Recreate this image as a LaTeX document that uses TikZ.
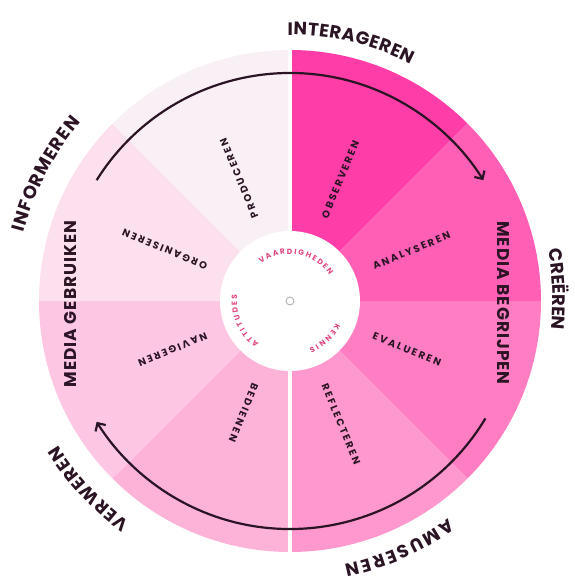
\documentclass[tikz,border=0pt]{standalone}
\usepackage{fontspec}
\newfontfamily\wheelfont{Poppins}
\usetikzlibrary{arrows.meta}
\usetikzlibrary{decorations.text}
\definecolor{observ}{RGB}{255,61,168}
\definecolor{analys}{RGB}{255,95,181}
\definecolor{evalu}{RGB}{255,125,194}
\definecolor{reflect}{RGB}{255,152,206}
\definecolor{bedien}{RGB}{253,178,216}
\definecolor{navig}{RGB}{253,198,226}
\definecolor{organis}{RGB}{253,224,238}
\definecolor{produc}{RGB}{248,240,244}
\definecolor{labelink}{RGB}{43,20,36}
\definecolor{innerink}{RGB}{226,70,130}
\newcommand\outerfont{\wheelfont\bfseries\fontsize{18}{18}\selectfont}
\newcommand\innerfont{\wheelfont\bfseries\fontsize{7.5}{7.5}\selectfont}
\tikzset{
  seclabel/.style={text=labelink, inner sep=0pt, anchor=west,
    font=\wheelfont\bfseries\fontsize{10}{10}\selectfont\addfontfeatures{LetterSpace=20}},
  medialabel/.style={text=labelink, inner sep=0pt,
    font=\wheelfont\bfseries\fontsize{17}{17}\selectfont\addfontfeatures{LetterSpace=6}},
  arrowline/.style={draw=labelink, line width=2.2pt, -{Straight Barb[length=6pt,width=12pt]}},
  arctext/.style={decorate, decoration={text along path, text align=fit to path, text color=labelink}}
}
\begin{document}
\begin{tikzpicture}
\useasboundingbox (-290pt,-281pt) rectangle (285pt,301pt);

%Shape: Sector [observeren]
\fill[observ] (0,0) -- (90:251pt) arc[start angle=90,end angle=45,radius=251pt] -- cycle;
%Shape: Sector [analyseren]
\fill[analys] (0,0) -- (45:251pt) arc[start angle=45,end angle=0,radius=251pt] -- cycle;
%Shape: Sector [evalueren]
\fill[evalu] (0,0) -- (0:251pt) arc[start angle=0,end angle=-45,radius=251pt] -- cycle;
%Shape: Sector [reflecteren]
\fill[reflect] (0,0) -- (-45:251pt) arc[start angle=-45,end angle=-90,radius=251pt] -- cycle;
%Shape: Sector [bedienen]
\fill[bedien] (0,0) -- (270:251pt) arc[start angle=270,end angle=225,radius=251pt] -- cycle;
%Shape: Sector [navigeren]
\fill[navig] (0,0) -- (225:251pt) arc[start angle=225,end angle=180,radius=251pt] -- cycle;
%Shape: Sector [organiseren]
\fill[organis] (0,0) -- (180:251pt) arc[start angle=180,end angle=135,radius=251pt] -- cycle;
%Shape: Sector [produceren]
\fill[produc] (0,0) -- (135:251pt) arc[start angle=135,end angle=90,radius=251pt] -- cycle;

%Shape: Circle [hub]
\fill[white] (0,0) circle[radius=70pt];
%Straight Lines [gap]
\draw[white, line width=4pt] (90:254pt) -- (270:254pt);
%Shape: Circle [dot]
\draw[black!30, line width=0.9pt] (0,0) circle[radius=4pt];

%Curve Lines [top arrow]
\coordinate (topfrom) at (148:228pt);
\draw[arrowline] (topfrom) arc[start angle=148,end angle=32,radius=228pt];
%Curve Lines [bottom arrow]
\coordinate (botfrom) at (-31:228pt);
\draw[arrowline] (botfrom) arc[start angle=-31,end angle=-148,radius=228pt];

% Text Node
\node[seclabel, rotate=67.5] (obs) at (67.5:90pt) {OBSERVEREN};
% Text Node
\node[seclabel, rotate=22.5] (ana) at (22.5:90pt) {ANALYSEREN};
% Text Node
\node[seclabel, rotate=-22.5] (eva) at (-22.5:90pt) {EVALUEREN};
% Text Node
\node[seclabel, rotate=-67.5] (ref) at (-67.5:90pt) {REFLECTEREN};
% Text Node
\node[seclabel, rotate=247.5] (bed) at (247.5:90pt) {BEDIENEN};
% Text Node
\node[seclabel, rotate=202.5] (nav) at (202.5:90pt) {NAVIGEREN};
% Text Node
\node[seclabel, rotate=157.5] (org) at (157.5:90pt) {ORGANISEREN};
% Text Node
\node[seclabel, rotate=112.5] (pro) at (112.5:90pt) {PRODUCEREN};

% Text Node
\node[medialabel, rotate=-90] (begrijpen) at (213pt,-2pt) {MEDIA BEGRIJPEN};
% Text Node
\node[medialabel, rotate=90] (gebruiken) at (-219pt,-3pt) {MEDIA GEBRUIKEN};

% Arc Text [outer]
\path[arctext, decoration={text={|\outerfont|INTERAGEREN}}] (90.5:266pt) arc[start angle=90.5,end angle=63,radius=266pt];
\path[arctext, decoration={text={|\outerfont|CREËREN}}] (11.2:263pt) arc[start angle=11.2,end angle=-5.2,radius=263pt];
\path[arctext, decoration={text={|\outerfont|AMUSEREN}}] (-53.9:269pt) arc[start angle=-53.9,end angle=-78.4,radius=269pt];
\path[arctext, decoration={text={|\outerfont|VERWEREN}}] (-125.9:273pt) arc[start angle=-125.9,end angle=-148.2,radius=273pt];
\path[arctext, decoration={text={|\outerfont|INFORMEREN}}] (165.5:275pt) arc[start angle=165.5,end angle=139.5,radius=275pt];

% Arc Text [hub]
\path[arctext, decoration={text={|\innerfont\color{innerink}|VAARDIGHEDEN}}] (128:47pt) arc[start angle=128,end angle=33,radius=47pt];
\path[arctext, decoration={text={|\innerfont\color{innerink}|KENNIS}}] (-26:51pt) arc[start angle=-26,end angle=-68,radius=51pt];
\path[arctext, decoration={text={|\innerfont\color{innerink}|ATTITUDES}}] (234:53pt) arc[start angle=234,end angle=173,radius=53pt];

\end{tikzpicture}
\end{document}
